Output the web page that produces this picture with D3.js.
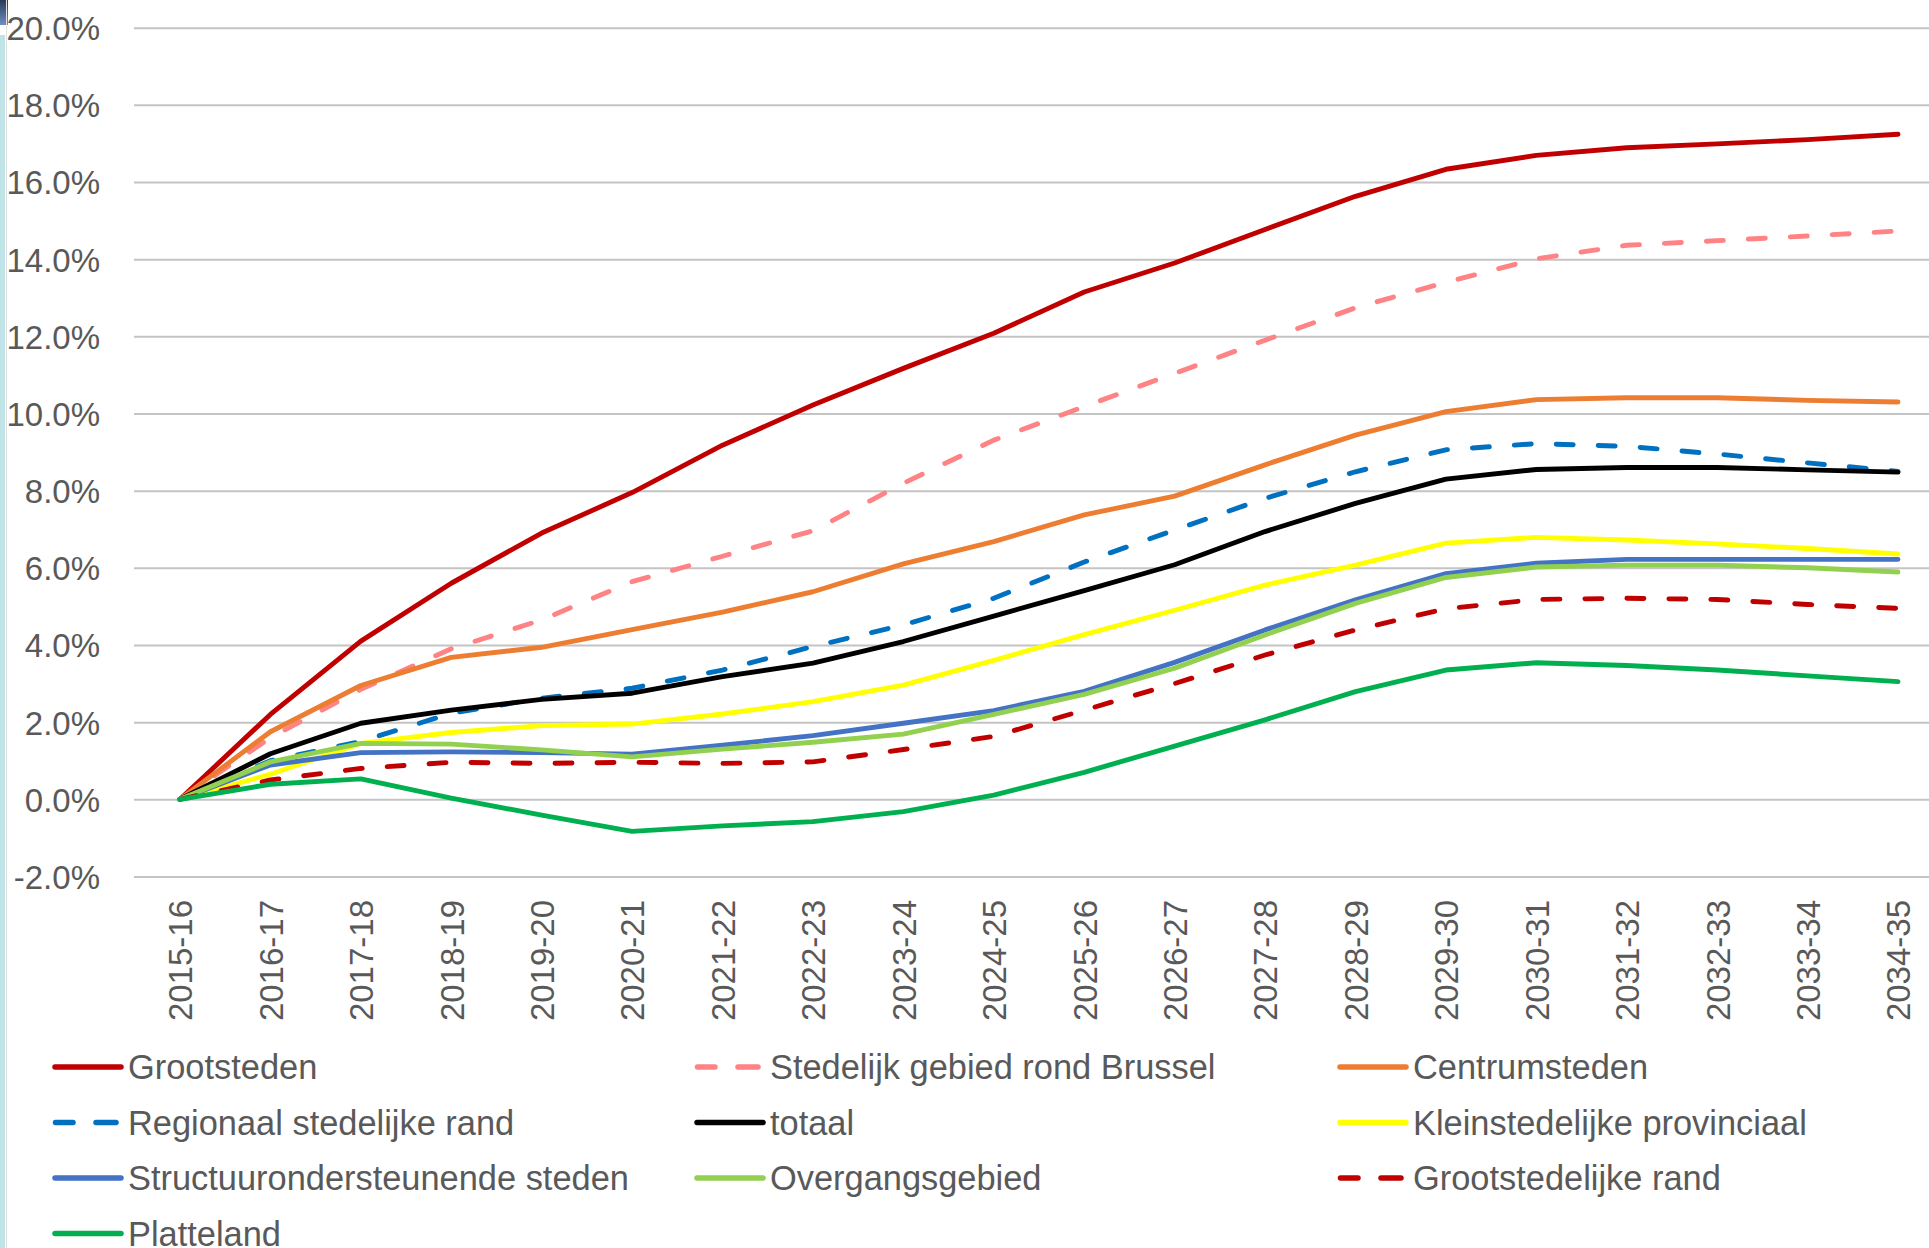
<!DOCTYPE html>
<html><head><meta charset="utf-8">
<script src="https://cdn.jsdelivr.net/npm/d3@7"></script>
<style>html,body{margin:0;padding:0;background:#fff;overflow:hidden}</style>
</head><body>
<svg id="chart" width="1929" height="1248" xmlns="http://www.w3.org/2000/svg"></svg>
<script>
// ---------- data ----------
const categories = ["2015-16","2016-17","2017-18","2018-19","2019-20","2020-21","2021-22","2022-23","2023-24","2024-25",
                    "2025-26","2026-27","2027-28","2028-29","2029-30","2030-31","2031-32","2032-33","2033-34","2034-35"];
const yTicks = [-2,0,2,4,6,8,10,12,14,16,18,20];

const grootsteden      = [0,2.2,4.1,5.6,6.9,7.95,9.18,10.22,11.17,12.08,13.15,13.9,14.77,15.63,16.33,16.69,16.89,16.99,17.1,17.24];
const stedelijkBrussel = [0,1.6,2.85,3.9,4.65,5.64,6.3,6.96,8.19,9.31,10.18,11.04,11.9,12.74,13.4,14.01,14.36,14.48,14.6,14.73];
const centrumsteden    = [0,1.75,2.95,3.68,3.94,4.4,4.85,5.38,6.1,6.68,7.37,7.86,8.67,9.44,10.05,10.36,10.41,10.41,10.34,10.3];
const regionaalRand    = [0,1.0,1.5,2.23,2.62,2.88,3.35,3.96,4.52,5.21,6.15,6.98,7.8,8.49,9.06,9.22,9.15,8.95,8.72,8.5];
const totaal           = [0,1.18,1.97,2.31,2.59,2.75,3.18,3.53,4.09,4.75,5.41,6.08,6.94,7.67,8.3,8.55,8.6,8.6,8.54,8.48];
const kleinstedelijk   = [0,0.65,1.45,1.73,1.91,1.95,2.21,2.53,2.96,3.6,4.27,4.9,5.55,6.07,6.64,6.79,6.72,6.62,6.5,6.36];
const structuur        = [0,0.89,1.21,1.23,1.21,1.17,1.4,1.65,1.97,2.3,2.8,3.55,4.39,5.17,5.85,6.12,6.22,6.22,6.22,6.22];
const overgangsgebied  = [0,0.97,1.45,1.43,1.28,1.1,1.3,1.48,1.69,2.2,2.72,3.4,4.26,5.08,5.75,6.02,6.07,6.07,6.0,5.89];
const grootstedRand    = [0,0.5,0.8,0.96,0.93,0.96,0.93,0.97,1.29,1.63,2.31,3.0,3.74,4.39,4.94,5.18,5.21,5.18,5.05,4.95];
const platteland       = [0,0.39,0.53,0.03,-0.41,-0.83,-0.69,-0.58,-0.32,0.11,0.7,1.38,2.06,2.79,3.35,3.54,3.47,3.35,3.2,3.05];

const seriesNames = ["Grootsteden","Stedelijk gebied rond Brussel","Centrumsteden",
                     "Regionaal stedelijke rand","totaal","Kleinstedelijke provinciaal",
                     "Structuurondersteunende steden","Overgangsgebied","Grootstedelijke rand",
                     "Platteland"];
const seriesValues = [grootsteden, stedelijkBrussel, centrumsteden, regionaalRand, totaal,
                      kleinstedelijk, structuur, overgangsgebied, grootstedRand, platteland];

// ---------- styles ----------
const styleByName = {
  "Grootsteden": {color:"#C00000", dashed:false},
  "Stedelijk gebied rond Brussel": {color:"#FF8285", dashed:true},
  "Centrumsteden": {color:"#ED7D31", dashed:false},
  "Regionaal stedelijke rand": {color:"#0070C0", dashed:true},
  "totaal": {color:"#000000", dashed:false},
  "Kleinstedelijke provinciaal": {color:"#FFFF00", dashed:false},
  "Structuurondersteunende steden": {color:"#4472C4", dashed:false},
  "Overgangsgebied": {color:"#92D050", dashed:false},
  "Grootstedelijke rand": {color:"#C00000", dashed:true},
  "Platteland": {color:"#00B050", dashed:false}
};
const FONT = "'Liberation Sans', Arial, sans-serif";
const TEXT = "#595959";

const svg = d3.select("#chart");

// screenshot edge artefacts
const defs = svg.append("defs");
const lg = defs.append("linearGradient").attr("id","navy").attr("x1",0).attr("y1",0).attr("x2",0).attr("y2",1);
lg.append("stop").attr("offset","0%").attr("stop-color","#2a3b58");
lg.append("stop").attr("offset","100%").attr("stop-color","#6f8fc4");
svg.append("rect").attr("x",0).attr("y",0).attr("width",8).attr("height",25).attr("fill","url(#navy)");
svg.append("rect").attr("x",0).attr("y",35).attr("width",5).attr("height",1213).attr("fill","#bfe3e6");
svg.append("line").attr("x1",6.5).attr("x2",6.5).attr("y1",0).attr("y2",1248).attr("stroke","#e0e0e0").attr("stroke-width",1);

// ---------- scales ----------
const plotLeft = 134, plotRight = 1929;
const x = d3.scalePoint().domain(categories).range([180, 1898]);
const y = d3.scaleLinear().domain([-2, 20]).range([876.46, 27.7]);

// gridlines
const grid = svg.append("g").attr("transform",`translate(${plotLeft},0)`)
  .call(d3.axisLeft(y).tickValues(yTicks).tickSize(-(plotRight-plotLeft)).tickFormat(""));
grid.select(".domain").remove();
grid.selectAll(".tick line").attr("stroke","#c4c4c4").attr("stroke-width",2);

// y axis labels
const yAx = svg.append("g").attr("transform",`translate(${plotLeft},0)`)
  .call(d3.axisLeft(y).tickValues(yTicks).tickSize(0).tickPadding(34).tickFormat(d => d.toFixed(1) + "%"));
yAx.select(".domain").remove();
yAx.selectAll("text").attr("font-family",FONT).attr("font-size",33).attr("fill",TEXT).attr("dy","0.36em");

// x axis labels
const xAx = svg.append("g").attr("transform",`translate(0,${y(-2)})`)
  .call(d3.axisBottom(x).tickSize(0));
xAx.select(".domain").remove();
xAx.selectAll("text")
  .attr("font-family",FONT).attr("font-size",33).attr("fill",TEXT)
  .attr("transform","rotate(-90)")
  .attr("text-anchor","end")
  .attr("x", -(900 - y(-2)))
  .attr("y", 0)
  .attr("dy","0.36em");

// ---------- lines ----------
const line = d3.line().x((d,i) => x(categories[i])).y(d => y(d));
const LW = 4.9;
seriesNames.forEach((name, k) => {
  const st = styleByName[name];
  svg.append("path")
    .datum(seriesValues[k])
    .attr("d", line)
    .attr("fill","none")
    .attr("stroke", st.color)
    .attr("stroke-width", LW)
    .attr("stroke-linejoin","round")
    .attr("stroke-linecap","round")
    .attr("stroke-dasharray", st.dashed ? "17,25" : null);
});

// ---------- legend ----------
const legCols = [53, 695, 1338];
const legRow0 = 1067, legRowStep = 55.5;
const leg = svg.append("g");
seriesNames.forEach((name, k) => {
  const st = styleByName[name];
  const cx = legCols[k % 3], cy = legRow0 + Math.floor(k / 3) * legRowStep;
  const g = leg.append("g").attr("transform",`translate(${cx},${cy})`);
  if (st.dashed) {
    [[2.5,20],[43,63]].forEach(([a,b]) => {
      g.append("line").attr("x1",a).attr("x2",b).attr("y1",0).attr("y2",0)
        .attr("stroke",st.color).attr("stroke-width",5.5).attr("stroke-linecap","round");
    });
  } else {
    g.append("line").attr("x1",2).attr("x2",68).attr("y1",0).attr("y2",0)
      .attr("stroke",st.color).attr("stroke-width",5.5).attr("stroke-linecap","round");
  }
  g.append("text").attr("x", 75).attr("y",0).attr("dy","0.35em")
    .attr("font-family",FONT).attr("font-size",34.4).attr("fill",TEXT).text(name);
});
</script>
</body></html>
